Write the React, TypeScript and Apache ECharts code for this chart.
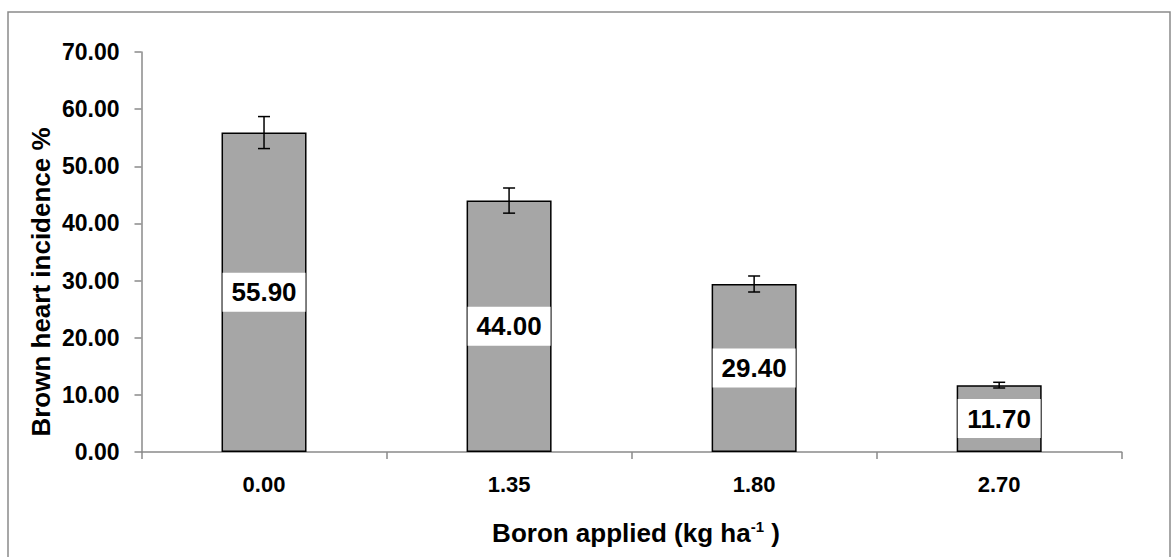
import React, { useEffect, useRef } from "react";
import * as echarts from "echarts";

// Boron rate categories (kg ha-1) and measured brown heart incidence (%)
const boronRates = ["0.00", "1.35", "1.80", "2.70"];
const incidence = [55.9, 44.0, 29.4, 11.7];
// Standard error shown as symmetric error bars
const stdError = [2.8, 2.2, 1.4, 0.5];
const yTicks = { min: 0, max: 70, step: 10 };

const FONT = "'Liberation Sans', Arial, Helvetica, sans-serif";
const AXIS_GREY = "#8a8a8a";

export default function App() {
  const ref = useRef<HTMLDivElement>(null);

  useEffect(() => {
    if (!ref.current) return;
    const chart = echarts.init(ref.current, null, { renderer: "svg" });

    const errorData = incidence.map((v, i) => [i, v - stdError[i], v + stdError[i]]);

    chart.setOption({
      animation: false,
      backgroundColor: "#ffffff",
      textStyle: { fontFamily: FONT },
      grid: { left: 141.5, right: 51.3, top: 52, bottom: 105 },
      xAxis: {
        type: "category",
        data: boronRates,
        boundaryGap: true,
        axisLine: { lineStyle: { color: AXIS_GREY, width: 1.5 } },
        axisTick: { show: true, length: 7, alignWithLabel: false, lineStyle: { color: AXIS_GREY, width: 1.5 } },
        axisLabel: { color: "#000", fontSize: 22, fontWeight: "bold", fontFamily: FONT, margin: 21 },
      },
      yAxis: {
        type: "value",
        min: yTicks.min,
        max: yTicks.max,
        interval: yTicks.step,
        splitLine: { show: false },
        axisLine: { show: true, lineStyle: { color: AXIS_GREY, width: 1.5 } },
        axisTick: { show: true, length: 7, lineStyle: { color: AXIS_GREY, width: 1.5 } },
        axisLabel: {
          color: "#000",
          fontSize: 23,
          fontWeight: "bold",
          fontFamily: FONT,
          margin: 22,
          formatter: (v: number) => v.toFixed(2),
        },
      },
      series: [
        {
          type: "bar",
          data: incidence,
          barWidth: 85,
          itemStyle: { color: "#a6a6a6", borderColor: "#000", borderWidth: 1.5 },
          label: {
            show: true,
            position: "inside",
            formatter: (p: any) => Number(p.value).toFixed(2),
            color: "#000",
            fontSize: 26,
            fontWeight: "bold",
            fontFamily: FONT,
            backgroundColor: "#ffffff",
            width: 83,
            height: 39,
            lineHeight: 39,
            align: "center",
            verticalAlign: "middle",
          },
          z: 2,
        },
        {
          type: "custom",
          data: errorData,
          z: 5,
          renderItem: (params: any, api: any) => {
            const i = api.value(0);
            const lo = api.coord([i, api.value(1)]);
            const hi = api.coord([i, api.value(2)]);
            const cap = 6;
            const style = { stroke: "#000", lineWidth: 1.5 };
            return {
              type: "group",
              children: [
                { type: "line", shape: { x1: hi[0], y1: hi[1], x2: lo[0], y2: lo[1] }, style },
                { type: "line", shape: { x1: hi[0] - cap, y1: hi[1], x2: hi[0] + cap, y2: hi[1] }, style },
                { type: "line", shape: { x1: lo[0] - cap, y1: lo[1], x2: lo[0] + cap, y2: lo[1] }, style },
              ],
            };
          },
        },
      ],
      graphic: [
        {
          type: "rect",
          shape: { x: 8, y: 12, width: 1162, height: 600 },
          style: { fill: "none", stroke: AXIS_GREY, lineWidth: 1.5 },
          silent: true,
        },
        {
          type: "text",
          x: 41,
          y: 282,
          rotation: Math.PI / 2,
          style: {
            text: "Brown heart incidence %",
            fontSize: 26,
            fontWeight: "bold",
            fontFamily: FONT,
            fill: "#000",
            align: "center",
            verticalAlign: "middle",
          },
        },
        {
          type: "text",
          x: 636,
          y: 533,
          style: {
            text: "{m|Boron applied (kg ha}{s|-1}{m| )}",
            align: "center",
            verticalAlign: "middle",
            rich: {
              m: { fontSize: 26, fontWeight: "bold", fontFamily: FONT, fill: "#000", lineHeight: 28 },
              s: {
                fontSize: 15,
                fontWeight: "bold",
                fontFamily: FONT,
                fill: "#000",
                lineHeight: 28,
                verticalAlign: "top",
                padding: [0, 0, 12, 0],
              },
            },
          },
        },
      ],
    });

    return () => chart.dispose();
  }, []);

  return (
    <div
      ref={ref}
      style={{ position: "fixed", left: 0, top: 0, width: 1173, height: 557, background: "#fff" }}
    />
  );
}
